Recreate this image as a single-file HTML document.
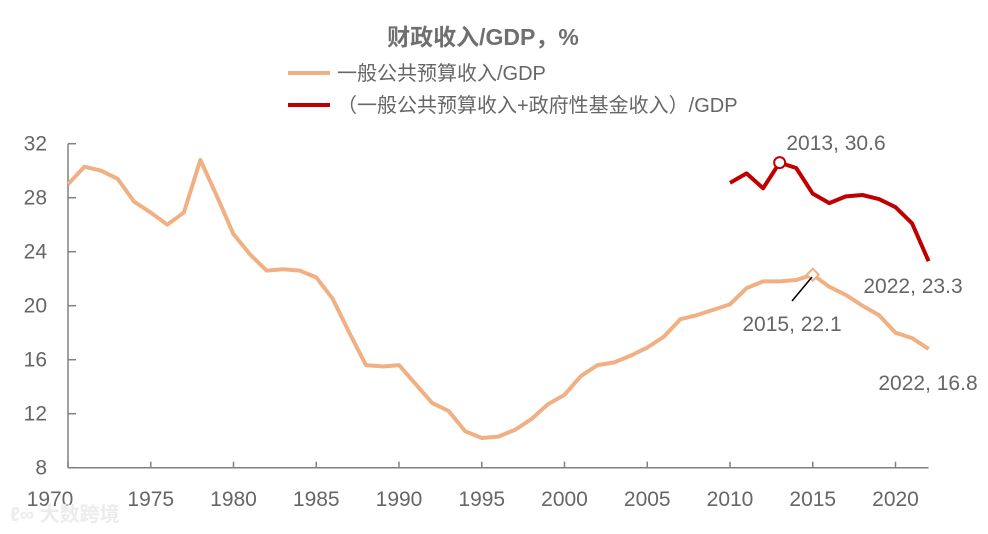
<!DOCTYPE html>
<html><head><meta charset="utf-8"><style>
body{margin:0;background:#fff;}
svg text{font-family:"Liberation Sans","Noto Sans CJK SC",sans-serif;}
</style></head><body>
<svg id="chart" width="988" height="529" viewBox="0 0 988 529">
<text x="483" y="45" text-anchor="middle" font-size="23" font-weight="bold" fill="#6f6f6f">财政收入/GDP，%</text>
<g>
<line x1="288" y1="73" x2="330" y2="73" stroke="#F0B084" stroke-width="4"/>
<text x="337" y="80" font-size="20" fill="#666">一般公共预算收入/GDP</text>
<line x1="288" y1="105" x2="330" y2="105" stroke="#C00000" stroke-width="4"/>
<text x="337" y="112" font-size="20" fill="#666">（一般公共预算收入+政府性基金收入）/GDP</text>
</g>
<g id="axes"></g>
<g id="series"></g>
<g>
<text x="836" y="150" text-anchor="middle" font-size="21" fill="#666">2013, 30.6</text>
<text x="913" y="293" text-anchor="middle" font-size="21" fill="#666">2022, 23.3</text>
<line x1="792" y1="301" x2="812" y2="277" stroke="#000" stroke-width="1.5"/>
<text x="792" y="331" text-anchor="middle" font-size="21" fill="#666">2015, 22.1</text>
<text x="928" y="390" text-anchor="middle" font-size="21" fill="#666">2022, 16.8</text>
</g>
<text x="10" y="521" font-size="20" font-weight="bold" fill="#ececec">ℓ∞ 大数跨境</text>
</svg>
<script>
const years = [];
for (let y = 1970; y <= 2022; y++) years.push(y);
const generalRevenue = [29.0,30.3,30.0,29.4,27.7,26.9,26.0,26.9,30.8,28.1,25.3,23.8,22.6,22.7,22.6,22.1,20.5,18.0,15.6,15.5,15.6,14.2,12.8,12.2,10.7,10.2,10.3,10.8,11.6,12.7,13.4,14.8,15.6,15.8,16.3,16.9,17.7,19.0,19.3,19.7,20.1,21.3,21.8,21.8,21.9,22.3,21.4,20.8,20.0,19.3,18.0,17.6,16.8];
const totalYears = [2010,2011,2012,2013,2014,2015,2016,2017,2018,2019,2020,2021,2022];
const totalRevenue = [29.1,29.8,28.7,30.6,30.2,28.3,27.6,28.1,28.2,27.9,27.3,26.1,23.3];
const yTicks = [8,12,16,20,24,28,32];
const xTicks = [1970,1975,1980,1985,1990,1995,2000,2005,2010,2015,2020];

const NS = "http://www.w3.org/2000/svg";
const X = yr => 68 + (yr - 1970) * 16.55;
const Y = v => 467.7 - (v - 8) * 13.5;
function mk(tag, attrs, parent){const e=document.createElementNS(NS,tag);for(const k in attrs)e.setAttribute(k,attrs[k]);parent.appendChild(e);return e;}
const axes = document.getElementById('axes');
const series = document.getElementById('series');
const yAxis = mk('line',{x1:68,y1:Y(32),x2:68,y2:Y(8),stroke:'#808080','stroke-width':1.5},axes);


const xAxis = mk('line',{x1:68,y1:Y(8),x2:X(2022),y2:Y(8),stroke:'#808080','stroke-width':1.5},axes);


yTicks.forEach(v=>{
  const t = mk('line',{x1:68,y1:Y(v),x2:76,y2:Y(v),stroke:'#808080','stroke-width':1.5},axes);
  
  
  const l = mk('text',{x:47,y:Y(v)+7,'text-anchor':'end','font-size':21,fill:'#666'},axes);
  l.textContent = v;
  
  
});
xTicks.forEach(v=>{
  const t = mk('line',{x1:X(v),y1:Y(8),x2:X(v),y2:Y(8)-6,stroke:'#808080','stroke-width':1.5},axes);
  
  
  const l = mk('text',{x:v===1970?X(v)-18:X(v),y:506,'text-anchor':'middle','font-size':21,fill:'#666'},axes);
  l.textContent = v;
  
  
});
const p1 = mk('polyline',{points:years.map((y,i)=>X(y)+','+Y(generalRevenue[i])).join(' '),fill:'none',stroke:'#F0B084','stroke-width':4,'stroke-linejoin':'round'},series);


const p2 = mk('polyline',{points:totalYears.map((y,i)=>X(y)+','+Y(totalRevenue[i])).join(' '),fill:'none',stroke:'#C00000','stroke-width':4,'stroke-linejoin':'round'},series);


const iMax = totalRevenue.indexOf(Math.max(...totalRevenue));
const m1 = mk('circle',{cx:X(totalYears[iMax]),cy:Y(totalRevenue[iMax]),r:5.5,fill:'#fff',stroke:'#C00000','stroke-width':2},series);


const i15 = years.indexOf(2015);
const cx=X(2015), cy=Y(generalRevenue[i15]);
const m2 = mk('polygon',{points:`${cx},${cy-6} ${cx+6},${cy} ${cx},${cy+6} ${cx-6},${cy}`,fill:'#fff',stroke:'#F0B084','stroke-width':2},series);


</script>
</body></html>
